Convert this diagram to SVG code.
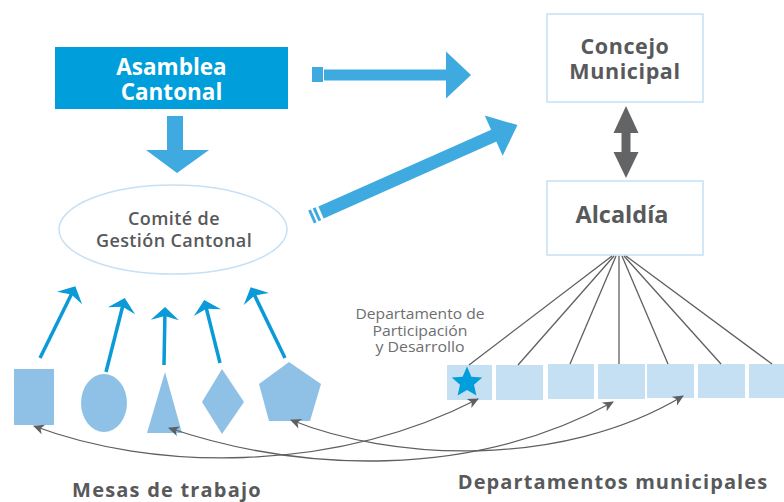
<svg xmlns="http://www.w3.org/2000/svg" width="784" height="502" viewBox="0 0 784 502">
<style>
.t{font-family:"Open Sans","Noto Sans","Liberation Sans",sans-serif;fill:#58595b;text-anchor:middle}
.b{font-weight:700}
.box{fill:#fff;stroke:#c6e0f5;stroke-width:1.5}
.shape{fill:#8fc1e7}
.dept{fill:#c5dff3}
.fan{stroke:#5e5f61;stroke-width:1.3;fill:none}
.curve{stroke:#5e5f61;stroke-width:1.3;fill:none;marker-start:url(#ga);marker-end:url(#ga)}
.up{stroke:#0a9ad8;stroke-width:3.5;fill:none;marker-end:url(#ba)}
.big{fill:#3eaae0}
.lab{fill:#6d6e70;font-size:14px}
</style>
<defs>
<marker id="ga" markerUnits="userSpaceOnUse" markerWidth="14" markerHeight="14" viewBox="-12 -7 14 14" refX="0" refY="0" orient="auto-start-reverse">
<path d="M1,0 L-10,-5 L-7,0 L-10,5 Z" fill="#5e5f61"/>
</marker>
<marker id="ba" markerUnits="userSpaceOnUse" markerWidth="32" markerHeight="32" viewBox="-16 -16 32 32" refX="-3" refY="0" orient="auto">
<path d="M0,0 L-13,-14 L-9,0 L-13,14 Z" fill="#0a9ad8"/>
</marker>
</defs>

<g id="asamblea">
<rect x="55" y="47" width="233" height="62" fill="#009fdb"/>
<text class="t b" x="171.5" y="75" font-size="22.5" style="fill:#fff">Asamblea</text>
<text class="t b" x="171.5" y="100" font-size="22.5" style="fill:#fff">Cantonal</text>
</g>

<g id="concejo">
<rect class="box" x="547" y="14" width="156" height="88"/>
<text class="t b" x="625" y="54" font-size="21.5" letter-spacing="0.6">Concejo</text>
<text class="t b" x="625" y="79" font-size="21.5" letter-spacing="0.6">Municipal</text>
</g>

<g id="alcaldia">
<rect class="box" x="547" y="181" width="156" height="74"/>
<text class="t b" x="622" y="223" font-size="23.5">Alcaldía</text>
</g>

<g id="comite">
<ellipse cx="173" cy="229.5" rx="114" ry="44.5" fill="#fff" stroke="#c6e0f5" stroke-width="1.5"/>
<text class="t" x="174" y="225" font-size="18" font-weight="600" letter-spacing="0.4">Comité de</text>
<text class="t" x="174" y="247" font-size="18" font-weight="600" letter-spacing="0.4">Gestión Cantonal</text>
</g>

<g id="mesas">
<rect class="shape" x="14" y="369" width="40" height="56"/>
<ellipse class="shape" cx="104" cy="403" rx="23" ry="29"/>
<polygon class="shape" points="165,372 182,433 147,433"/>
<polygon class="shape" points="222,369 244,402 222,434 202,402"/>
<polygon class="shape" points="289,362 321,384 310,421 269,421 259,384"/>
<text class="t b" x="167" y="497" font-size="20" letter-spacing="1.2">Mesas de trabajo</text>
</g>

<g id="departamentos">
<rect class="dept" x="447" y="365" width="45" height="35"/>
<polygon fill="#009fdb" points="467,366.5 471.4,376.7 482.2,377.6 474,384.8 476.4,395.6 467,390 457.6,395.6 460,384.8 451.8,377.6 462.6,376.7"/>
<rect class="dept" x="496" y="365" width="47" height="35"/>
<rect class="dept" x="548" y="364" width="46" height="35"/>
<rect class="dept" x="598" y="364" width="47" height="35"/>
<rect class="dept" x="647" y="364" width="47" height="34"/>
<rect class="dept" x="698" y="364" width="47" height="34"/>
<rect class="dept" x="749" y="364" width="40" height="34"/>
<text class="t b" x="613" y="489" font-size="20" letter-spacing="1.1">Departamentos municipales</text>
</g>

<g id="participacion">
<text class="t lab" x="420" y="319" textLength="129" lengthAdjust="spacingAndGlyphs">Departamento de</text>
<text class="t lab" x="420" y="335.5" textLength="95" lengthAdjust="spacingAndGlyphs">Participación</text>
<text class="t lab" x="420" y="352" textLength="89" lengthAdjust="spacingAndGlyphs">y Desarrollo</text>
</g>

<g id="connectors">
<!-- Asamblea down to Comite -->
<polygon class="big" points="167,116 183,116 183,150 209,150 177,173 146,150 167,150"/>
<!-- Asamblea to Concejo -->
<g transform="translate(312,75)">
<rect class="big" x="0" y="-8" width="11" height="15"/>
<rect class="big" x="12" y="-5.5" width="123" height="11"/>
<polygon class="big" points="134,-23.5 159,0 134,23.5"/>
</g>
<!-- Comite to Concejo -->
<g transform="translate(311,217) rotate(-24)">
<rect class="big" x="0" y="-7" width="3" height="14"/>
<rect class="big" x="5" y="-7" width="3" height="14"/>
<rect class="big" x="11" y="-6.5" width="191" height="13"/>
<polygon class="big" points="200,-22 226,0 200,22"/>
</g>
<!-- Concejo <-> Alcaldia -->
<g fill="#636466">
<polygon points="626,106 638.5,133 613.5,133"/>
<rect x="621.5" y="132" width="9" height="21"/>
<polygon points="626,178 638.5,152 613.5,152"/>
</g>
<!-- mesas to comite -->
<line class="up" x1="40" y1="358" x2="74" y2="289"/>
<line class="up" x1="106" y1="372" x2="124" y2="301"/>
<line class="up" x1="164" y1="365" x2="165" y2="310"/>
<line class="up" x1="220" y1="363" x2="205" y2="303"/>
<line class="up" x1="285" y1="358" x2="252" y2="290"/>
<!-- alcaldia to departamentos -->
<line class="fan" x1="612" y1="256" x2="469" y2="365"/>
<line class="fan" x1="614" y1="256" x2="518" y2="365"/>
<line class="fan" x1="616" y1="256" x2="570" y2="364"/>
<line class="fan" x1="619" y1="256" x2="619" y2="364"/>
<line class="fan" x1="622" y1="256" x2="668" y2="364"/>
<line class="fan" x1="624" y1="256" x2="721" y2="364"/>
<line class="fan" x1="626" y1="256" x2="772" y2="364"/>
<!-- mesas <-> departamentos -->
<path class="curve" d="M34,426 C150,470 330,475 478,399"/>
<path class="curve" d="M169,428 C300,472 470,480 613,402"/>
<path class="curve" d="M291,420 C390,460 560,470 683,396"/>
</g>
</svg>
